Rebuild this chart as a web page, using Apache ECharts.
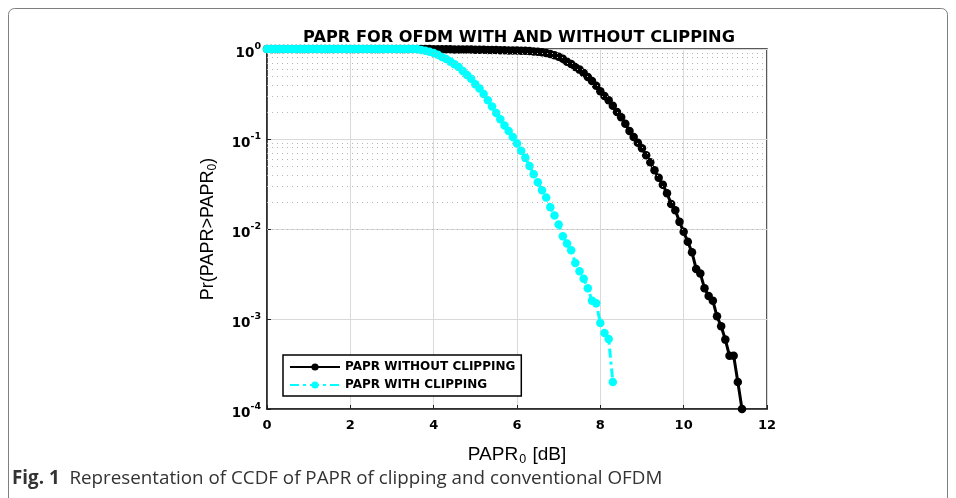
<!DOCTYPE html>
<html>
<head>
<meta charset="utf-8">
<script src="https://cdn.jsdelivr.net/npm/echarts@6/dist/echarts.min.js"></script>
<style>html,body{margin:0;padding:0;background:#fff}#c{width:956px;height:498px}</style>
</head>
<body>
<div id="c"></div>
<script>
// PAPR0 values [dB]
var papr = [0,0.1,0.2,0.3,0.4,0.5,0.6,0.7,0.8,0.9,
  1,1.1,1.2,1.3,1.4,1.5,1.6,1.7,1.8,1.9,
  2,2.1,2.2,2.3,2.4,2.5,2.6,2.7,2.8,2.9,
  3,3.1,3.2,3.3,3.4,3.5,3.6,3.7,3.8,3.9,
  4,4.1,4.2,4.3,4.4,4.5,4.6,4.7,4.8,4.9,
  5,5.1,5.2,5.3,5.4,5.5,5.6,5.7,5.8,5.9,
  6,6.1,6.2,6.3,6.4,6.5,6.6,6.7,6.8,6.9,
  7,7.1,7.2,7.3,7.4,7.5,7.6,7.7,7.8,7.9,
  8,8.1,8.2,8.3,8.4,8.5,8.6,8.7,8.8,8.9,
  9,9.1,9.2,9.3,9.4,9.5,9.6,9.7,9.8,9.9,
  10,10.1,10.2,10.3,10.4,10.5,10.6,10.7,10.8,10.9,
  11,11.1,11.2,11.3,11.4];

// CCDF without clipping (x = 0 .. 11.4)
var ccdfNoClip = [1,1,1,1,1,1,1,1,1,1,
  1,1,1,1,1,1,1,1,1,1,
  1,1,1,1,1,1,1,1,1,1,
  1,1,1,1,1,1,1,1,1,1,
  0.995,0.994,0.993,0.992,0.991,0.99,0.989,0.988,0.987,0.985,
  0.983,0.981,0.979,0.977,0.975,0.972,0.97,0.968,0.965,0.962,
  0.96,0.957,0.954,0.948,0.94,0.93,0.92,0.9,0.88,0.85,
  0.82,0.78,0.72,0.68,0.63,0.59,0.54,0.49,0.44,0.39,
  0.34,0.3,0.27,0.234,0.2,0.174,0.148,0.123,0.105,0.091,
  0.079,0.066,0.055,0.045,0.037,0.031,0.025,0.019,0.0162,0.012,
  0.0093,0.0072,0.0055,0.0036,0.0032,0.0022,0.0018,0.0016,0.00107,0.00083,
  0.00059,0.00039,0.00039,0.0002,0.0001];

// CCDF with clipping (x = 0 .. 8.3)
var ccdfClip = [1,1,1,1,1,1,1,1,1,1,
  1,1,1,1,1,1,1,1,1,1,
  1,1,1,1,1,1,1,1,1,1,
  1,1,1,1,1,1,1,0.977,0.955,0.933,
  0.902,0.861,0.813,0.776,0.724,0.676,0.631,0.569,0.513,0.468,
  0.407,0.363,0.316,0.269,0.229,0.195,0.166,0.141,0.123,0.105,
  0.0891,0.0741,0.0617,0.0501,0.0407,0.0331,0.0269,0.0224,0.0174,0.0141,
  0.0112,0.0083,0.0069,0.0058,0.0042,0.0034,0.0028,0.0022,0.0016,0.0015,
  0.0009,0.0007,0.0006,0.0002];

var yDecades = [1e-4,1e-3,1e-2,1e-1,1];
var yMinorMultipliers = [2,3,4,5,6,7,8,9];
var yMinor = [];
for (var d = 0; d < 4; d++) { for (var m = 0; m < yMinorMultipliers.length; m++) { yMinor.push(Number((yMinorMultipliers[m] * yDecades[d]).toPrecision(2))); } }

var seriesNames = ['PAPR WITHOUT CLIPPING', 'PAPR WITH CLIPPING'];

function pairs(xs, ys) { var out = []; for (var i = 0; i < ys.length; i++) out.push([xs[i], ys[i]]); return out; }

var chart = echarts.init(document.getElementById('c'), null, {renderer: 'canvas'});
var F = '"Liberation Sans", Arial, sans-serif';
var FB = '"DejaVu Sans", sans-serif';
chart.setOption({
  animation: false,
  textStyle: {fontFamily: F},
  title: {
    text: 'PAPR FOR OFDM WITH AND WITHOUT CLIPPING',
    left: 514, top: 25, textAlign: 'center',
    textStyle: {fontFamily: FB, fontSize: 16.2, fontWeight: 'bold', color: '#000'}
  },
  graphic: [
    {type: 'rect', silent: true, z: -1, shape: {x: 8.5, y: 8.5, width: 939, height: 520, r: 6},
     style: {fill: 'none', stroke: '#7f7f7f', lineWidth: 1}},
    {type: 'text', left: 12, top: 469, silent: true,
     style: {text: '{b|Fig. 1}{n|  Representation of CCDF of PAPR of clipping and conventional OFDM}',
       rich: {b: {fontFamily: '"Open Sans", sans-serif', fontSize: 18.8, fontWeight: 'bold', fill: '#333'},
              n: {fontFamily: '"Open Sans", sans-serif', fontSize: 18.8, fill: '#333'}}}}
  ],
  legend: {
    orient: 'vertical', left: 283, top: 355,
    backgroundColor: '#fff', borderColor: '#000', borderWidth: 1.5,
    padding: [6, 6, 5, 6], itemGap: 6, itemWidth: 50, itemHeight: 9,
    data: seriesNames,
    textStyle: {fontFamily: FB, fontSize: 12, fontWeight: 'bold', color: '#000'}
  },
  grid: {left: 267, right: 189, top: 49, bottom: 89, show: true, borderColor: '#222', borderWidth: 1.5, backgroundColor: '#fff'},
  xAxis: {
    type: 'value', min: 0, max: 12, interval: 2,
    name: '{a|PAPR}{s|0}{a| [dB]}', nameLocation: 'middle', nameGap: 34,
    nameTextStyle: {rich: {a: {fontFamily: F, fontSize: 19, color: '#000'}, s: {fontFamily: F, fontSize: 12.5, color: '#000', padding: [10, 1, 0, 1]}}},
    axisLine: {lineStyle: {color: '#222', width: 1.5}},
    axisTick: {inside: true, length: 4, lineStyle: {color: '#222'}},
    axisLabel: {fontFamily: FB, fontSize: 13, fontWeight: 'bold', color: '#000', margin: 10},
    splitLine: {show: true, lineStyle: {color: '#d9d9d9', width: 1}}
  },
  yAxis: {
    type: 'log', logBase: 10, min: 1e-4, max: 1,
    name: '{a|Pr(PAPR>PAPR}{s|0}{a|)}', nameLocation: 'middle', nameGap: 48, nameRotate: 90,
    nameTextStyle: {rich: {a: {fontFamily: F, fontSize: 18, color: '#000'}, s: {fontFamily: F, fontSize: 12, color: '#000', padding: [10, 0, 0, 0]}}},
    axisLine: {show: true, lineStyle: {color: '#222', width: 1.5}},
    axisTick: {inside: true, length: 4, lineStyle: {color: '#222'}},
    axisLabel: {
      margin: 6,
      formatter: function (v) { var e = Math.round(Math.log10(v)); return '{b|10}{s|' + e + '}'; },
      rich: {b: {fontFamily: FB, fontSize: 13.5, fontWeight: 'bold', color: '#000', padding: [8, 0, 0, 0]},
             s: {fontFamily: FB, fontSize: 9.5, fontWeight: 'bold', color: '#000', padding: [0, 0, 4, 0]}}
    },
    splitLine: {show: true, lineStyle: {color: '#d9d9d9', width: 1}}
  },
  series: [
    {
      name: seriesNames[0], type: 'line', data: pairs(papr, ccdfNoClip),
      symbol: 'circle', symbolSize: 8.5, showSymbol: true,
      itemStyle: {color: '#000'}, lineStyle: {color: '#000', width: 3},
      z: 3,
      markLine: {
        silent: true, symbol: 'none', label: {show: false}, animation: false,
        lineStyle: {color: '#b5b5b5', type: [1, 4], width: 1},
        data: yMinor.map(function (v) { return {yAxis: v}; })
      }
    },
    {
      name: seriesNames[1], type: 'line', data: pairs(papr, ccdfClip),
      symbol: 'circle', symbolSize: 8.5, showSymbol: true,
      itemStyle: {color: '#00ffff'}, lineStyle: {color: '#00ffff', width: 3, type: [9, 4, 3, 4]},
      z: 4
    }
  ]
});
</script>
</body>
</html>
